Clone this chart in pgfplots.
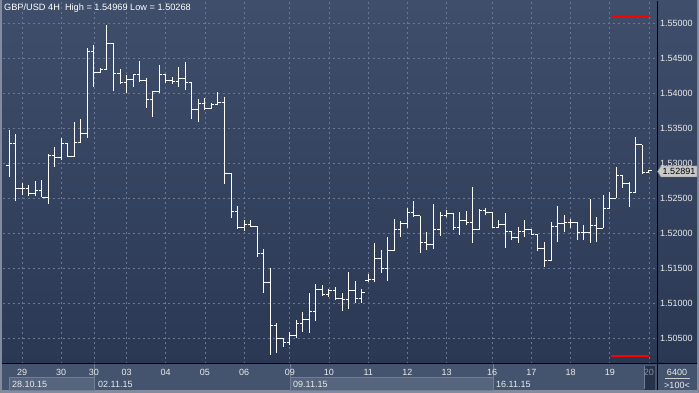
\documentclass[border=0pt]{standalone}
\usepackage{pgfplots}
\pgfplotsset{compat=1.18}
\usepackage{pgfplotstable}
\usepackage{fontspec}
\setmainfont{Liberation Sans}
\definecolor{bgtop}{RGB}{63,78,106}
\definecolor{bgbot}{RGB}{42,56,84}
\definecolor{strip}{RGB}{68,83,110}
\definecolor{datebox}{RGB}{86,100,126}
\definecolor{gridc}{RGB}{105,120,148}
\definecolor{framec}{RGB}{130,140,158}
\definecolor{sepc}{RGB}{112,126,152}
\definecolor{darkbox}{RGB}{38,50,74}
\definecolor{greytxt}{RGB}{130,142,162}
\definecolor{pricebox}{RGB}{200,200,200}
\pgfdeclareplotmark{otick}{\pgfpathmoveto{\pgfpoint{-\pgfplotmarksize}{0pt}}\pgfpathlineto{\pgfpointorigin}\pgfusepathqstroke}
\pgfdeclareplotmark{ctick}{\pgfpathmoveto{\pgfpointorigin}\pgfpathlineto{\pgfpoint{\pgfplotmarksize}{0pt}}\pgfusepathqstroke}
\pgfplotstableread{
i O H L C
1 1.52962 1.53476 1.52800 1.53276
2 1.53276 1.53419 1.52467 1.52643
3 1.52643 1.52714 1.52548 1.52643
4 1.52643 1.52690 1.52538 1.52562
5 1.52562 1.52752 1.52538 1.52614
6 1.52614 1.52762 1.52514 1.52514
7 1.52514 1.53129 1.52419 1.53110
8 1.53110 1.53238 1.52952 1.53086
9 1.53086 1.53357 1.53048 1.53286
10 1.53286 1.53295 1.53095 1.53095
11 1.53095 1.53595 1.53095 1.53300
12 1.53300 1.53633 1.53300 1.53419
13 1.53419 1.54643 1.53357 1.54595
14 1.54595 1.54690 1.54095 1.54295
15 1.54295 1.54367 1.54295 1.54343
16 1.54343 1.54969 1.54343 1.54714
17 1.54714 1.54724 1.54038 1.54276
18 1.54276 1.54343 1.54133 1.54152
19 1.54152 1.54262 1.54000 1.54200
20 1.54200 1.54271 1.54095 1.54262
21 1.54262 1.54462 1.54176 1.54181
22 1.54181 1.54224 1.53795 1.53905
23 1.53905 1.54033 1.53667 1.54024
24 1.54024 1.54405 1.54000 1.54262
25 1.54262 1.54271 1.54143 1.54176
26 1.54176 1.54238 1.54133 1.54167
27 1.54167 1.54371 1.54095 1.54214
28 1.54214 1.54443 1.54048 1.54152
29 1.54152 1.54152 1.53629 1.53771
30 1.53771 1.53914 1.53595 1.53857
31 1.53857 1.53929 1.53762 1.53781
32 1.53781 1.53857 1.53771 1.53843
33 1.53843 1.54014 1.53833 1.53871
34 1.53871 1.53952 1.52700 1.52857
35 1.52857 1.52857 1.52224 1.52310
36 1.52310 1.52390 1.52057 1.52086
37 1.52086 1.52190 1.52038 1.52129
38 1.52129 1.52190 1.52086 1.52100
39 1.52100 1.52100 1.51667 1.51714
40 1.51714 1.51776 1.51152 1.51300
41 1.51300 1.51510 1.50268 1.50676
42 1.50676 1.50714 1.50290 1.50500
43 1.50500 1.50500 1.50381 1.50443
44 1.50443 1.50595 1.50405 1.50533
45 1.50533 1.50762 1.50500 1.50705
46 1.50705 1.50871 1.50595 1.50771
47 1.50771 1.51143 1.50571 1.50890
48 1.50890 1.51271 1.50752 1.51200
49 1.51200 1.51262 1.51110 1.51119
50 1.51119 1.51200 1.51095 1.51181
51 1.51181 1.51238 1.51048 1.51071
52 1.51071 1.51143 1.50895 1.51048
53 1.51048 1.51443 1.50914 1.51190
54 1.51190 1.51319 1.51000 1.51071
55 1.51071 1.51200 1.51010 1.51157
56 1.51320 1.51414 1.51310 1.51333
57 1.51333 1.51857 1.51310 1.51643
58 1.51643 1.51762 1.51429 1.51500
59 1.51500 1.51943 1.51324 1.51748
60 1.51748 1.52200 1.51748 1.52057
61 1.52057 1.52176 1.51952 1.52143
62 1.52143 1.52367 1.52071 1.52300
63 1.52300 1.52462 1.52238 1.52248
64 1.52248 1.52248 1.51724 1.51867
65 1.51867 1.52024 1.51762 1.51843
66 1.51843 1.52419 1.51771 1.52048
67 1.52048 1.52310 1.51962 1.52248
68 1.52248 1.52333 1.52238 1.52286
69 1.52286 1.52286 1.52048 1.52086
70 1.52086 1.52310 1.51976 1.52181
71 1.52181 1.52324 1.52119 1.52152
72 1.52152 1.52667 1.51867 1.52057
73 1.52057 1.52343 1.52048 1.52324
74 1.52324 1.52357 1.52262 1.52300
75 1.52300 1.52310 1.52071 1.52086
76 1.52086 1.52190 1.52071 1.52119
77 1.52119 1.52286 1.51795 1.52024
78 1.52024 1.52024 1.51905 1.51943
79 1.51943 1.52095 1.51857 1.52033
80 1.52033 1.52190 1.51952 1.52048
81 1.52048 1.52057 1.51976 1.51990
82 1.51990 1.51990 1.51748 1.51786
83 1.51786 1.51881 1.51524 1.51605
84 1.51605 1.52167 1.51605 1.52095
85 1.52095 1.52395 1.51881 1.52143
86 1.52143 1.52262 1.52024 1.52152
87 1.52152 1.52200 1.52071 1.52152
88 1.52152 1.52167 1.51905 1.52010
89 1.52010 1.52119 1.51905 1.52010
90 1.52010 1.52490 1.51867 1.52105
91 1.52105 1.52238 1.51881 1.52071
92 1.52071 1.52548 1.52071 1.52357
93 1.52357 1.52595 1.52357 1.52500
94 1.52500 1.52943 1.52500 1.52833
95 1.52833 1.52833 1.52643 1.52705
96 1.52705 1.52738 1.52381 1.52586
97 1.52586 1.53371 1.52586 1.53262
98 1.53262 1.53262 1.52848 1.52867
99 1.52867 1.52905 1.52857 1.52891
}\ohlc
\begin{document}
\begin{tikzpicture}[x=1pt,y=1pt]
\useasboundingbox (0,0) rectangle (699,393);
\fill[framec] (0,0) rectangle (699,393);
\shade[top color=bgtop,bottom color=bgbot] (2,29) rectangle (657,392);
\shade[top color=bgtop,bottom color=bgbot] (657,29) rectangle (697,392);
\fill[strip] (2,2.5) rectangle (697,29);
\fill[datebox, draw=sepc, line width=0.8pt] (9.5,2.5) rectangle (94,15.5);
\fill[datebox, draw=sepc, line width=0.8pt] (290,2.5) rectangle (493,15.5);
\fill[darkbox] (644,2.5) rectangle (655,27);
\draw[sepc, line width=1pt] (94,2.5) -- (94,29);
\draw[sepc, line width=1pt] (290,2.5) -- (290,29);
\draw[sepc, line width=1pt] (493,2.5) -- (493,29);
\draw[sepc, line width=1pt] (644,4) -- (644,27);
\begin{axis}[
  at={(3pt,29pt)}, anchor=south west, scale only axis,
  width=654pt, height=363pt,
  xmin=0.08, xmax=100.23, ymin=1.50133, ymax=1.55319,
  axis line style={draw=none},
  major tick length=0pt,
  xtick={3,9,14,19,25,31,37,44,50,56,62,68,75,81,87,93,99},
  xticklabels={29,30,30,03,04,05,06,09,10,11,12,13,16,17,18,19,\textcolor{greytxt}{20}},
  ytick={1.505,1.51,1.515,1.52,1.525,1.53,1.535,1.54,1.545,1.55},
  yticklabels={1.50500,1.51000,1.51500,1.52000,1.52500,1.53000,1.53500,1.54000,1.54500,1.55000},
  yticklabel pos=right,
  grid=major,
  major grid style={gridc, dash pattern=on 2pt off 3pt, line width=0.8pt},
  tick label style={font=\fontsize{9}{10}\selectfont, text=white!92!black},
  xticklabel style={anchor=center, yshift=-8pt, inner sep=0pt},
  yticklabel style={anchor=west, inner sep=0pt, xshift=3pt},
]
\addplot[white, line width=1pt, only marks, mark=ctick, mark size=3pt,
  error bars/.cd, y dir=both, y explicit, error mark=none,
  error bar style={white, line width=1pt, solid}]
  table[x=i, y=C, y error plus expr=\thisrow{H}-\thisrow{C}, y error minus expr=\thisrow{C}-\thisrow{L}] {\ohlc};
\addplot[white, line width=1pt, only marks, mark=otick, mark size=3pt] table[x=i, y=O] {\ohlc};
\addplot[red, line width=2pt] coordinates {(93.2,1.55104) (99.05,1.55104)};
\addplot[red, line width=2pt] coordinates {(93.2,1.50247) (99.05,1.50247)};
\end{axis}
\draw[black, line width=1pt] (2,29) -- (697,29);
\draw[black, line width=1pt] (657,2.5) -- (657,392);
\node[anchor=west, text=white, font=\fontsize{9.2}{10}\selectfont, inner sep=0pt] at (4,385) {GBP/USD 4H\ \ High = 1.54969 Low = 1.50268};
\node[anchor=west, text=white!92!black, font=\fontsize{9}{10}\selectfont, inner sep=0pt] at (12,9) {28.10.15};
\node[anchor=west, text=white!92!black, font=\fontsize{9}{10}\selectfont, inner sep=0pt] at (98,9) {02.11.15};
\node[anchor=west, text=white!92!black, font=\fontsize{9}{10}\selectfont, inner sep=0pt] at (293,9) {09.11.15};
\node[anchor=west, text=white!92!black, font=\fontsize{9}{10}\selectfont, inner sep=0pt] at (496,9) {16.11.15};
\node[text=white!92!black, font=\fontsize{9}{10}\selectfont, inner sep=0pt] at (677,21) {6400};
\draw[white!80!black, line width=0.8pt] (665,15) -- (690,15);
\node[text=white!92!black, font=\fontsize{9}{10}\selectfont, inner sep=0pt] at (677,8) {>100<};
\fill[pricebox, draw=gray] (657.5,221.5) -- (661,227) -- (697,227) -- (697,216) -- (661,216) -- cycle;
\node[text=black, font=\fontsize{9}{10}\selectfont, inner sep=0pt] at (679,221.5) {1.52891};
\end{tikzpicture}
\end{document}
